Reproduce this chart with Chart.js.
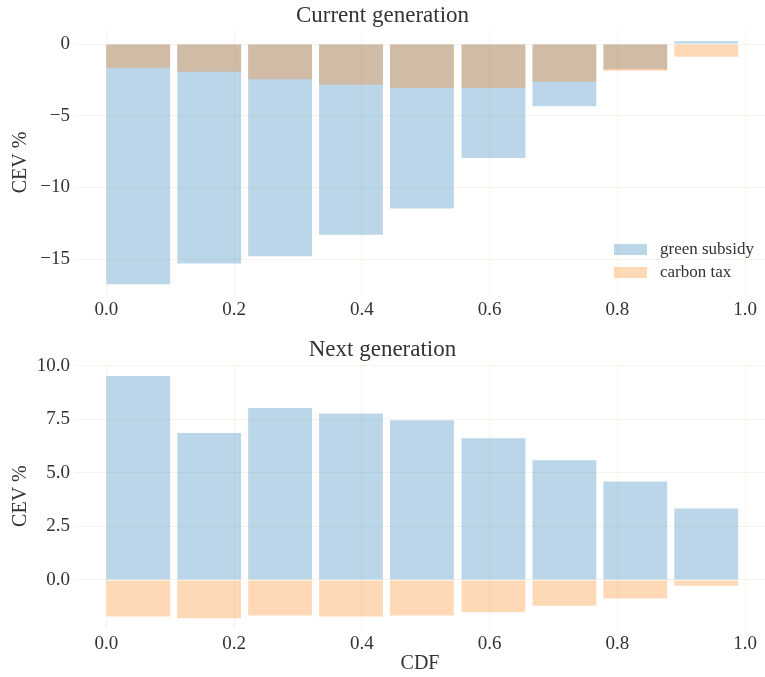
<!DOCTYPE html>
<html>
<head>
<meta charset="utf-8">
<script src="https://cdn.jsdelivr.net/npm/chart.js@4.4.0/dist/chart.umd.min.js"></script>
<style>
  html, body { margin: 0; padding: 0; background: #fff; }
  #wrap { position: relative; width: 765px; height: 677px; }
  .panel { position: absolute; left: 0; width: 765px; }
  #top { top: 0; height: 330px; }
  #bottom { top: 330px; height: 347px; }
</style>
</head>
<body>
<div id="wrap">
  <div class="panel" id="top"><canvas id="chart-current"></canvas></div>
  <div class="panel" id="bottom"><canvas id="chart-next"></canvas></div>
</div>
<script>
// left edge of each CDF bin, and bar width
const binLeft = [0.0, 0.111, 0.222, 0.333, 0.444, 0.556, 0.667, 0.778, 0.889];
const binWidth = 0.1;

const seriesLabels = ['green subsidy', 'carbon tax'];

// Current generation, CEV %
const currentSubsidy = [-16.75, -15.3, -14.8, -13.3, -11.47, -7.95, -4.33, -1.75, 0.2];
const currentTax = [-1.66, -1.93, -2.45, -2.84, -3.07, -3.07, -2.63, -1.86, -0.88];

// Next generation, CEV %
const nextSubsidy = [9.53, 6.87, 8.03, 7.78, 7.46, 6.62, 5.59, 4.6, 3.34];
const nextTax = [-1.71, -1.79, -1.66, -1.71, -1.66, -1.51, -1.21, -0.87, -0.27];

const xTicks = [0, 0.2, 0.4, 0.6, 0.8, 1.0];
const currentYTicks = [-15, -10, -5, 0];
const nextYTicks = [0, 2.5, 5, 7.5, 10];

const FONT = "'Liberation Serif', 'DejaVu Serif', serif";
const TEXT = '#333';
const GRID = 'rgba(225, 215, 170, 0.25)';
const BLUE = 'rgba(31, 119, 180, 0.3)';
const ORANGE = 'rgba(255, 127, 14, 0.3)';

function puntos(vals) {
    return binLeft.map((x, i) => ({ x: x + binWidth / 2, y: vals[i] }));
}

function conMenos(v, dec) {
    const s = Math.abs(v).toFixed(dec);
    return v < 0 ? '\u2212' + s : s;
}

// legend drawn inside the plot, bottom right
const leyendaDentro = {
    id: 'leyendaDentro',
    afterDatasetsDraw(chart, args, opts) {
        if (!opts.show) return;
        const ctx = chart.ctx;
        const a = chart.chartArea;
        const colores = [BLUE, ORANGE];
        ctx.save();
        ctx.font = `17px ${FONT}`;
        ctx.textBaseline = 'middle';
        ctx.textAlign = 'left';
        seriesLabels.forEach((lab, i) => {
            const y = a.bottom - 51 + i * 23;
            ctx.fillStyle = colores[i];
            ctx.fillRect(a.right - 151, y, 33, 11);
            ctx.fillStyle = TEXT;
            ctx.fillText(lab, a.right - 105, y + 6);
        });
        ctx.restore();
    }
};

function graficar(id, cfg) {
    const barOpts = { grouped: false, categoryPercentage: 0.9, barPercentage: 1.0, borderWidth: 0 };
    return new Chart(document.getElementById(id), {
        type: 'bar',
        data: {
            datasets: [
                Object.assign({ label: seriesLabels[0], data: puntos(cfg.subsidy), backgroundColor: BLUE, order: 1 }, barOpts),
                Object.assign({ label: seriesLabels[1], data: puntos(cfg.tax), backgroundColor: ORANGE, order: 0 }, barOpts)
            ]
        },
        options: {
            responsive: true,
            maintainAspectRatio: false,
            animation: false,
            layout: { padding: 0 },
            plugins: {
                legend: { display: false },
                tooltip: { enabled: false },
                title: {
                    display: true,
                    text: cfg.title,
                    color: TEXT,
                    font: { family: FONT, size: 23, weight: 'normal' },
                    padding: cfg.titlePad
                },
                leyendaDentro: { show: cfg.legend }
            },
            scales: {
                x: {
                    type: 'linear',
                    min: -0.049,
                    max: 1.031,
                    offset: false,
                    grid: { color: GRID, offset: false, drawTicks: false },
                    border: { display: false },
                    afterBuildTicks: s => { s.ticks = xTicks.map(v => ({ value: v })); },
                    afterFit: s => { s.height = cfg.xHeight; s.paddingLeft = 0; s.paddingRight = 0; },
                    ticks: {
                        color: TEXT,
                        padding: 4,
                        font: { family: FONT, size: 19 },
                        callback: v => v.toFixed(1)
                    },
                    title: {
                        display: !!cfg.xTitle,
                        text: cfg.xTitle || '',
                        color: TEXT,
                        font: { family: FONT, size: 20 },
                        padding: { top: 0, bottom: 1 }
                    }
                },
                y: {
                    min: cfg.yMin,
                    max: cfg.yMax,
                    grid: { color: GRID, drawTicks: false },
                    border: { display: false },
                    afterBuildTicks: s => { s.ticks = cfg.yTicks.map(v => ({ value: v })); },
                    afterFit: s => { s.width = 75; s.paddingTop = 0; s.paddingBottom = 0; },
                    ticks: {
                        color: TEXT,
                        padding: 5,
                        font: { family: FONT, size: 19 },
                        callback: v => conMenos(v, cfg.yDec)
                    },
                    title: {
                        display: true,
                        text: 'CEV %',
                        color: TEXT,
                        font: { family: FONT, size: 20 },
                        padding: { top: 9, bottom: 0 }
                    }
                }
            }
        },
        plugins: [leyendaDentro]
    });
}

graficar('chart-current', {
    title: 'Current generation',
    titlePad: { top: 2, bottom: 0.4 },
    subsidy: currentSubsidy,
    tax: currentTax,
    yMin: -17.5,
    yMax: 0.98,
    yTicks: currentYTicks,
    yDec: 0,
    xHeight: 35,
    legend: true
});

graficar('chart-next', {
    title: 'Next generation',
    titlePad: { top: 5.8, bottom: 0.2 },
    subsidy: nextSubsidy,
    tax: nextTax,
    yMin: -2.27,
    yMax: 10.11,
    yTicks: nextYTicks,
    yDec: 1,
    xHeight: 48.5,
    xTitle: 'CDF',
    legend: false
});
</script>
</body>
</html>
